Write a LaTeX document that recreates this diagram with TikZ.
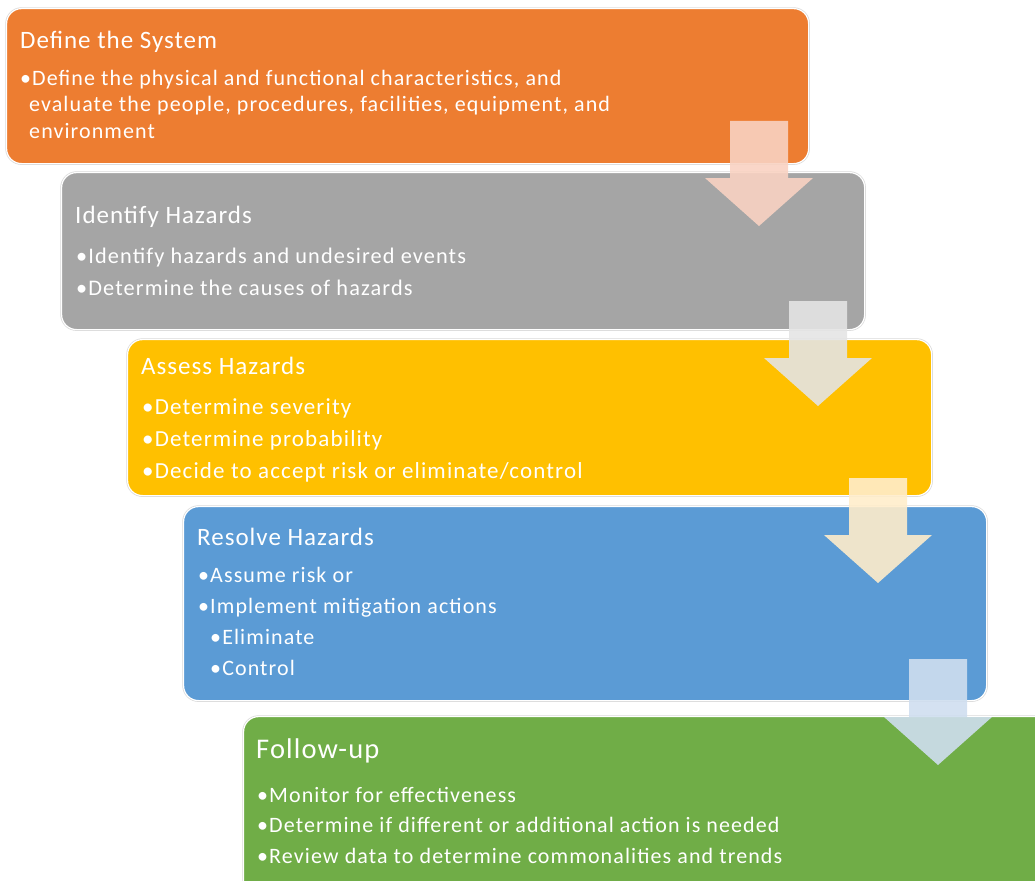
\documentclass[tikz,border=0pt]{standalone}
\usepackage{fontspec}
\setmainfont{Carlito}
\newfontfamily\titlefont[LetterSpace=4]{Carlito}
\newfontfamily\itemfont[LetterSpace=5]{Carlito}
\usetikzlibrary{calc}

\definecolor{defineorange}{HTML}{ED7D31}
\definecolor{identifygray}{HTML}{A5A5A5}
\definecolor{assessyellow}{HTML}{FFC000}
\definecolor{resolveblue}{HTML}{5B9BD5}
\definecolor{followgreen}{HTML}{70AD47}
\definecolor{arroworange}{HTML}{F9D2C2}
\definecolor{arrowgray}{HTML}{E4E4E4}
\definecolor{arrowyellow}{HTML}{FFEDCB}
\definecolor{arrowblue}{HTML}{CFDEEF}

\begin{document}
\begin{tikzpicture}[x=1pt,y=-1pt,
    stage/.style={draw=white, line width=1.2pt, rounded corners=15pt,
      anchor=north west, inner sep=0pt,
      preaction={draw=black!15, line width=2.6pt}},
    stage title/.style={anchor=west, text=white, inner sep=0pt,
      font=\titlefont\fontsize{25}{30}\selectfont},
    stage items/.style={anchor=north west, text=white, inner sep=0pt,
      align=left, font=\itemfont\fontsize{22}{32}\selectfont},
    flow arrow/.style={fill=#1, opacity=0.9}]
  \useasboundingbox (0,0) rectangle (1035,880);

  % the five stages
  \node[stage, fill=defineorange, minimum width=802pt, minimum height=155pt]
    (define) at (6,8) {};
  \node[stage, fill=identifygray, minimum width=803pt, minimum height=157pt]
    (identify) at (61,172) {};
  \node[stage, fill=assessyellow, minimum width=804pt, minimum height=156pt]
    (assess) at (127,339) {};
  \node[stage, fill=resolveblue, minimum width=803pt, minimum height=194pt]
    (resolve) at (183,506) {};
  \node[stage, fill=followgreen, minimum width=810pt, minimum height=180pt]
    (follow) at (243,716) {};

  % texts
  \node[stage title] (define-t) at (20,42) {Define the System};
  \node[stage items, font=\itemfont\fontsize{22}{26.5}\selectfont]
    (define-i) at (20,70)
    {•Define the physical and functional characteristics, and\\
     \hspace*{9pt}evaluate the people, procedures, facilities, equipment, and\\
     \hspace*{9pt}environment};
  \node[stage title] (identify-t) at (75,217) {Identify Hazards};
  \node[stage items, font=\itemfont\fontsize{22.3}{32}\selectfont]
    (identify-i) at (76,248)
    {•Identify hazards and undesired events\\
     •Determine the causes of hazards};
  \node[stage title] (assess-t) at (141,366) {Assess Hazards};
  \node[stage items, font=\itemfont\fontsize{23}{32}\selectfont]
    (assess-i) at (142,398)
    {•Determine severity\\
     •Determine probability\\
     •Decide to accept risk or eliminate/control};
  \node[stage title] (resolve-t) at (197,537) {Resolve Hazards};
  \node[stage items, font=\itemfont\fontsize{22}{31}\selectfont]
    (resolve-i) at (198,567)
    {•Assume risk or\\
     •Implement mitigation actions\\
     \hspace*{12pt}•Eliminate\\
     \hspace*{12pt}•Control};
  \node[stage title, font=\titlefont\fontsize{28.5}{32}\selectfont]
    (follow-t) at (256,751) {Follow-up};
  \node[stage items, font=\itemfont\fontsize{22}{30.5}\selectfont]
    (follow-i) at (257,787)
    {•Monitor for effectiveness\\
     •Determine if different or additional action is needed\\
     •Review data to determine commonalities and trends};

  % arrows between the stages
  \foreach \cx/\top/\base/\col in {759/121/178/arroworange,
      818/301/358/arrowgray, 878/478/535/arrowyellow, 938/659/717/arrowblue}
    \fill[flow arrow=\col] (\cx-29,\top) -- (\cx+29,\top) -- (\cx+29,\base)
      -- (\cx+54,\base) -- (\cx,\base+48) -- (\cx-54,\base)
      -- (\cx-29,\base) -- cycle;
\end{tikzpicture}
\end{document}
